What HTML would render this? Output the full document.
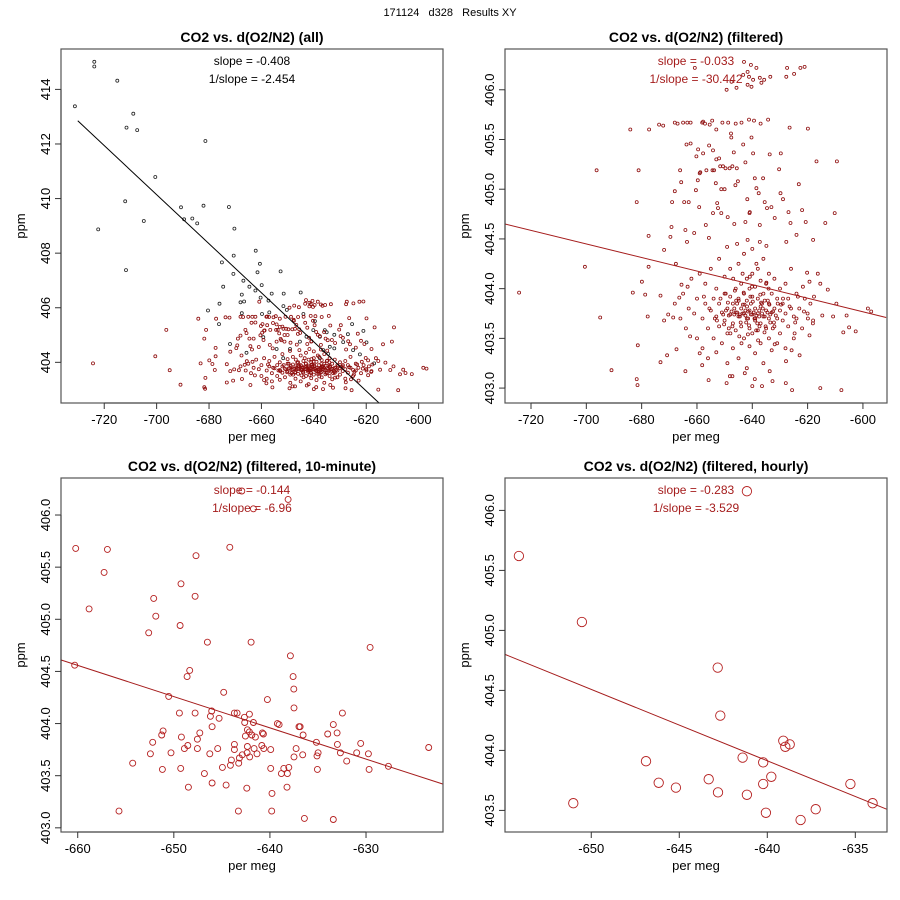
<!DOCTYPE html>
<html><head><meta charset="utf-8"><title>Results XY</title>
<style>
html,body{margin:0;padding:0;background:#fff;}
svg{display:block;font-family:"Liberation Sans",Arial,sans-serif;}
</style></head>
<body>
<svg id="chart" width="900" height="900" viewBox="0 0 900 900" xmlns="http://www.w3.org/2000/svg">
<rect width="900" height="900" fill="#fff"/>
<text x="450" y="16" font-size="11" text-anchor="middle" fill="#000" style="white-space:pre" xml:space="preserve">171124   d328   Results XY</text>
</svg>
<script>
// ---------- DATA ----------
// Panel 1 extra (unfiltered) black points: x (per meg), y (ppm)
const allOnlyX = [-723.8,-723.8,-715,-731.2,-708.9,-711.5,-707.4,-681.4,-700.5,-712,-722.3,-711.7,-704.9,-690.7,-689.5,-686.4,-684.5,-682.1,-672.4,-670.3,-670.6,-662.2,-660.6,-661.5,-652.7,-659.9,-662.3,-664.6,-666.9,-670.7,-675.1,-674.6,-667.5,-666.6,-668,-676,-680.4,-676.2,-667.5,-659.8,-657,-660.3,-656.1,-651.5,-645,-657.3,-651.6,-650.3,-644,-639.6,-640.2,-635.8,-635.1,-632.2,-627,-625.4,-621.1,-619.9,-622.4,-617,-628.8,-625,-633.9,-636.4,-634.5,-637.7,-642.8,-645.3,-649.1,-654.2,-659.3,-665.7,-672,-651.7,-637.7,-632.2];
const allOnlyY = [415.01,414.84,414.32,413.38,413.11,412.6,412.51,412.11,410.79,409.9,408.87,407.38,409.18,409.68,409.24,409.27,409.09,409.74,409.69,408.9,407.91,408.09,407.61,407.3,407.33,406.83,406.63,406.77,406.99,407.24,407.66,406.77,406.48,406.23,406.2,406.15,405.9,405.4,405.8,405.77,405.83,406.37,406.52,406.52,406.56,406.26,406.06,405.92,405.77,405.51,405.18,405.18,405.1,405.01,405.03,405.4,405.15,404.73,404.29,403.96,404.74,404.45,404.57,404.45,404.31,404.15,404.94,404.76,404.49,404.49,404.92,404.35,404.67,404.15,404.94,404.51];

// Filtered points (panels 1 and 2)
const filtX = [
-660.8,-649.3,-645.7,-643,-641.7,-640.5,-638.5,-641.2,-639.7,-641.7,-640.3,-637.3,-636.7,-635.7,-633.5,-627.4,-627.7,-624.9,-622.6,-621.1,-643.3,-647.5,
-684.1,-677.3,-673.7,-672.2,-668,-667,-665,-663.5,-662.3,-658.1,-657.1,-654.5,-653,-650.8,-648.7,-646,-643.9,-641.2,-639.4,-637,-634.3,-626.5,-619.9,-657.8,-655.4,
-696.3,-681.1,-681.8,-677.5,-671.9,-669.2,-669.6,-669,-668,-666.1,-665.7,-664.6,-664.2,-663.6,-663,-663.8,-662.3,-661,-660.4,-660.2,-659.6,-659.7,-659.2,-659,-658.8,-657.8,-656.8,-656.6,-655.6,-655.7,-654.2,-653.8,-654.4,-653.2,-653,-652.7,-652.4,-652,-651.2,-650,-651.6,-650.6,-649.7,-648.2,-647.2,-647.6,-647.7,-646.7,-646.1,-645.2,-645.6,-643.3,-642.5,-641.8,-641,-640.3,-639.7,-639.1,-638.5,-637.7,-636.1,-635.5,-633.7,-633.1,-630.3,-629.8,-629.7,-628.9,-626.9,-623.2,-622,-620.7,-616.8,-613.6,-610.2,-609.4,-618,-624,-627.7,-626.2,-631.9,-634.7,-637.3,-640.9,-642.5,-646.5,-648.9,-651.2,-654.2,-641.7,-637.3,-634.9,-649.1,-645.5,
-724.3,-700.5,-695,-690.9,-683.2,-681.8,-681.5,-681.4,-679.9,-678.7,-677.8,-677.5,-673.2,-673.2,-671.9,-670.8,-670.4,-668.6,-667.6,-667.4,-666.4,-664.2,-665.6,-663.4,-662.5,-659,-658.1,-655.8,-653,-649.3,-648.1,-647.2,-642.7,-640,-639.1,-636.5,-633.7,-632.7,-627.9,-625.6,-615.4,-607.8,-622.9,-625.8,-627.8,-619.3,-618.1,-616.3,-615.4,-612.7,-610.8,-609.6,-607.1,-605.9,-605,-602.6,-598.2,-597,-614.7,-617.7,-619.3,-620.2,-621.7,-623.5,-621.3,-619.9,-624.7,
-668,-666,-665,-664,-663,-662,-661,-660,-660,-659,-658,-658,-657,-657,-656,-656,-655,-655,-654,-654,-653,-653,-652,-652,-652,-651,-651,-650,-650,-650,-649,-649,-649,-648,-648,-648,-647,-647,-647,-646,-646,-646,-645,-645,-645,-645,-644,-644,-644,-643,-643,-643,-643,-642,-642,-642,-642,-641,-641,-641,-641,-640,-640,-640,-640,-640,-639,-639,-639,-639,-638,-638,-638,-638,-637,-637,-637,-637,-636,-636,-636,-636,-635,-635,-635,-634,-634,-634,-634,-633,-633,-633,-632,-632,-632,-631,-631,-631,-630,-630,-630,-629,-629,-628,-628,-628,-627,-627,-626,-626,-625,-625,-624,-624,-623,-622,-621,-620,-619,-618,-644.5,-642.5,-639.5,-637.5,-641.5,-646.5,-651.5,-633.5,-635.5,-648.5,-643.5,-638.5,-640.5,-636.5,-645.5,
-650.5,-649.5,-648.5,-647.5,-646.5,-645.5,-644.5,-643.5,-642.5,-641.5,-640.5,-639.5,-638.5,-637.5,-636.5,-635.5,-634.5,-633.5,-632.5,-631.5,-650.2,-648.8,-647.2,-645.8,-644.2,-642.8,-641.2,-639.8,-638.2,-636.8,-635.2,-633.8,-632.2,-630.8,-649.6,-647.9,-646.3,-644.7,-643.1,-641.6,-640.1,-638.6,-637.1,-635.6,-634.1,-632.6,-646.9,-643.9,-640.9,-637.9,-634.9,-631.9,-628.9,-655.5,-653.5,-626.5,-624.5,-657.5,-652.8,-629.6,-641.9,-638.9,-644.9,-636.2,-640.7,-642.2,-639.2,-643.4,-637.4,-634.4];
const filtY = [
406.22,406.0,406.02,406.28,406.18,406.25,406.22,406.13,406.1,406.05,406.03,406.12,406.07,406.1,406.13,406.22,406.13,406.16,406.22,406.23,406.15,406.08,
405.6,405.6,405.65,405.64,405.67,405.66,405.67,405.67,405.67,405.67,405.66,405.69,405.6,405.67,405.67,405.66,405.67,405.7,405.69,405.66,405.7,405.62,405.61,405.68,405.65,
405.19,405.19,404.87,404.53,404.39,404.62,404.52,404.87,404.98,405.19,405.07,404.87,404.59,404.47,404.87,405.45,405.46,404.56,404.99,405.33,405.4,405.09,404.82,405.16,405.17,405.36,404.64,405.19,405.44,404.51,405.39,405.19,405.19,405.06,405.3,404.86,404.81,405.31,405.0,405.0,405.23,405.23,405.21,405.21,405.23,405.52,405.56,405.37,405.04,405.08,405.21,405.45,405.27,404.9,404.76,405.52,405.36,405.11,405.01,404.96,405.11,404.87,405.35,404.82,405.2,404.96,405.36,404.9,404.77,405.05,404.79,404.67,405.28,404.66,404.76,405.28,404.49,404.54,404.47,404.66,404.71,404.81,404.64,404.77,404.67,404.65,404.72,404.76,404.76,404.49,404.47,404.43,404.42,404.45,
403.96,404.22,403.71,403.18,403.96,403.09,403.03,403.43,404.07,403.94,403.72,404.22,403.93,403.26,403.68,403.33,403.74,403.71,404.25,403.39,403.91,403.17,404.04,404.02,403.52,403.35,403.23,403.08,403.36,403.05,403.12,403.12,403.15,403.02,403.09,403.02,403.17,403.07,403.05,402.98,403.0,402.98,403.33,403.38,403.27,403.53,403.65,404.15,404.05,403.99,403.72,403.85,403.56,403.73,403.61,403.57,403.8,403.77,403.73,403.92,404.07,404.16,404.02,403.92,403.77,403.7,403.55,
403.85,403.7,403.95,403.6,403.8,404.1,403.75,403.5,403.9,404.15,403.7,403.4,403.85,404.05,403.6,403.3,403.78,404.2,403.9,403.5,403.72,404.0,403.62,403.85,404.3,403.76,403.45,403.95,403.68,404.12,403.8,403.55,403.25,403.74,403.92,404.2,403.65,403.85,403.4,403.76,404.0,403.58,403.9,403.72,404.25,403.3,403.8,403.62,404.05,403.75,403.95,403.5,404.35,403.7,403.88,404.1,403.2,403.78,404.0,403.6,403.42,403.74,403.92,404.15,403.55,404.4,403.8,403.68,404.02,403.35,403.75,403.9,404.2,403.58,403.82,403.65,404.08,403.45,403.72,403.95,404.3,403.25,403.78,403.6,404.05,403.85,403.7,403.5,404.15,403.76,403.95,403.38,403.8,403.62,404.1,403.9,403.7,403.45,403.78,404.0,403.55,403.85,403.68,403.75,404.05,403.4,403.9,403.62,403.8,404.2,403.72,403.5,403.95,403.7,403.8,403.6,403.9,403.75,403.85,403.68,403.74,403.78,403.76,403.72,403.7,403.8,403.9,403.66,403.88,403.6,404.15,404.25,403.85,403.85,403.85,
403.74,403.78,403.73,403.77,403.74,403.76,403.72,403.75,403.73,403.77,403.74,403.76,403.73,403.78,403.75,403.72,403.76,403.74,403.77,403.73,403.64,403.86,403.62,403.88,403.66,403.84,403.63,403.87,403.65,403.86,403.62,403.84,403.66,403.85,403.95,403.55,403.98,403.52,403.96,403.54,404.02,403.58,403.94,403.56,404.0,403.6,404.1,403.45,404.12,403.48,404.06,403.44,403.9,403.8,403.7,403.82,403.66,403.92,403.68,403.84,403.82,403.7,403.88,403.8,403.92,403.66,403.7,403.84,403.62,403.88];

// 10-minute averages (panel 3)
const tenX = [-660.21,-656.91,-657.26,-658.82,-660.31,-655.7,-654.28,-652.61,-652.09,-651.88,-652.44,-652.2,-651.26,-651.12,-651.19,-650.53,-650.29,-649.25,-649.35,-649.42,-649.21,-649.28,-648.9,-648.55,-648.48,-648.62,-648.35,-647.79,-647.69,-647.79,-647.55,-647.55,-647.3,-646.82,-646.51,-646.26,-646.19,-646.06,-646.02,-646.02,-645.43,-645.29,-644.95,-644.81,-644.56,-644.18,-644.11,-644.01,-643.7,-643.42,-643.7,-643.7,-643.28,-643.25,-643.18,-642.87,-642.66,-642.62,-642.55,-642.41,-642.38,-642.34,-642.34,-642.14,-642.14,-642.1,-641.96,-641.89,-641.72,-641.65,-641.51,-641.34,-640.85,-640.78,-640.68,-640.64,-640.26,-639.92,-639.92,-639.78,-639.81,-639.22,-639.05,-638.81,-638.56,-638.18,-638.04,-638.22,-637.87,-637.59,-637.52,-637.49,-637.49,-637.28,-636.97,-636.86,-636.55,-636.59,-636.41,-635.16,-635.1,-634.99,-635.06,-633.99,-633.4,-632.98,-633.01,-632.67,-633.4,-632.46,-632.01,-630.97,-630.55,-629.75,-629.68,-629.58,-627.67,-623.48,-642.93,-641.72,-638.11];
const tenY = [405.68,405.67,405.45,405.1,404.56,403.16,403.62,404.87,405.2,405.03,403.71,403.82,403.89,403.93,403.56,404.26,403.72,405.34,404.94,404.1,403.87,403.57,403.76,403.79,403.39,404.45,404.51,405.22,405.61,404.1,403.85,403.76,403.91,403.52,404.78,403.71,404.07,404.12,403.97,403.43,403.76,404.05,403.58,404.3,403.41,405.69,403.6,403.65,404.1,404.1,403.8,403.75,403.16,403.62,403.67,403.7,404.06,404.01,403.88,403.38,403.72,403.94,403.78,403.92,404.09,403.68,404.78,403.89,404.01,403.76,403.87,403.71,403.79,403.91,403.9,403.76,404.23,403.75,403.57,403.33,403.16,404.0,403.99,403.52,403.57,403.52,403.58,403.39,404.65,404.45,404.33,404.15,403.68,403.76,403.97,403.97,403.89,403.7,403.09,403.82,403.69,403.72,403.56,403.9,403.99,403.8,403.91,403.72,403.08,404.1,403.64,403.72,403.81,403.71,403.56,404.73,403.59,403.77,406.23,406.06,406.15];

// hourly averages (panel 4)
const hourX = [-654.11,-650.53,-651.02,-646.89,-646.17,-645.19,-643.33,-642.82,-642.8,-642.67,-641.4,-641.16,-641.16,-640.23,-640.23,-640.08,-639.77,-639.09,-638.98,-638.73,-638.11,-637.25,-635.28,-634.02];
const hourY = [405.62,405.07,403.56,403.91,403.73,403.69,403.76,404.69,403.65,404.29,403.94,406.16,403.63,403.9,403.72,403.48,403.78,404.08,404.03,404.05,403.42,403.51,403.72,403.56];

// regression line endpoints [x0,y0,x1,y1] in data units
const fit1 = [-730.1,412.85,-615.0,402.5];
const fit2 = [-729.4,404.65,-591.6,403.71];
const fit3 = [-661.73,404.61,-622.02,403.42];
const fit4 = [-654.9,404.80,-633.22,403.51];

// tick values
const xt1 = [-720,-700,-680,-660,-640,-620,-600];
const yt1 = [404,406,408,410,412,414];
const xt2 = [-720,-700,-680,-660,-640,-620,-600];
const yt2 = [403.0,403.5,404.0,404.5,405.0,405.5,406.0];
const xt3 = [-660,-650,-640,-630];
const yt3 = [403.0,403.5,404.0,404.5,405.0,405.5,406.0];
const xt4 = [-650,-645,-640,-635];
const yt4 = [403.5,404.0,404.5,405.0,405.5,406.0];

const slopeTexts = [["slope = -0.408","1/slope = -2.454"],["slope = -0.033","1/slope = -30.442"],["slope = -0.144","1/slope = -6.96"],["slope = -0.283","1/slope = -3.529"]];

// ---------- DRAW ----------
const NS = "http://www.w3.org/2000/svg";
const svg = document.getElementById("chart");
const RED = "#8e0c0c";
function mk(tag, attrs, parent, txt){
  const e = document.createElementNS(NS, tag);
  for (const k in attrs) e.setAttribute(k, attrs[k]);
  if (txt !== undefined) e.textContent = txt;
  (parent || svg).appendChild(e);
  return e;
}
function panel(cfg){
  const g = mk("g", {});
  
  
  const L=cfg.box[0], T=cfg.box[1], R=cfg.box[2], B=cfg.box[3];
  const sx = v => L + (v - cfg.xr[0]) / (cfg.xr[1] - cfg.xr[0]) * (R - L);
  const sy = v => B - (v - cfg.yr[0]) / (cfg.yr[1] - cfg.yr[0]) * (B - T);
  const clip = mk("clipPath", {id: cfg.name + "-clip"}, g);
  mk("rect", {x:L, y:T, width:R-L, height:B-T}, clip);
  const plot = mk("g", {"clip-path": "url(#" + cfg.name + "-clip)"}, g);
  
  
  cfg.series.forEach(s => {
    for (let i = 0; i < s.x.length; i++) {
      const c = mk("circle", {cx: sx(s.x[i]).toFixed(1), cy: sy(s.y[i]).toFixed(1), r: s.r, fill: "none", stroke: s.color, "stroke-width": s.sw}, plot);
      
      
    }
  });
  const f = cfg.fit;
  const ln = mk("line", {x1: sx(f[0]), y1: sy(f[1]), x2: sx(f[2]), y2: sy(f[3]), stroke: cfg.lineColor, "stroke-width": 1}, plot);
  
  
  const box = mk("rect", {x:L, y:T, width:R-L, height:B-T, fill:"none", stroke:"#555", "stroke-width":1.2}, g);
  
  
  const xa = mk("g", {}, g);
  
  
  mk("line", {x1: sx(cfg.xt[0]), y1: B, x2: sx(cfg.xt[cfg.xt.length-1]), y2: B, stroke:"#333"}, xa);
  cfg.xt.forEach(v => {
    const x = sx(v);
    mk("line", {x1:x, y1:B, x2:x, y2:B+6, stroke:"#333"}, xa);
    const t = mk("text", {x:x, y:B+21, "font-size":13, "text-anchor":"middle", fill:"#000"}, xa, String(v));
    
    
  });
  const xl = mk("text", {x:(L+R)/2, y:B+38, "font-size":13, "text-anchor":"middle"}, g, "per meg");
  
  
  const ya = mk("g", {}, g);
  
  
  mk("line", {x1: L, y1: sy(cfg.yt[0]), x2: L, y2: sy(cfg.yt[cfg.yt.length-1]), stroke:"#333"}, ya);
  cfg.yt.forEach(v => {
    const y = sy(v);
    mk("line", {x1:L-6, y1:y, x2:L, y2:y, stroke:"#333"}, ya);
    const t = mk("text", {x:L-11, y:y, "font-size":13, "text-anchor":"middle", transform:"rotate(-90 " + (L-11) + " " + y + ")", fill:"#000"}, ya, cfg.ydec ? v.toFixed(1) : String(v));
    
    
  });
  const yl = mk("text", {x:L-36, y:(T+B)/2, "font-size":13, "text-anchor":"middle", transform:"rotate(-90 " + (L-36) + " " + (T+B)/2 + ")"}, g, "ppm");
  
  
  const ti = mk("text", {x:(L+R)/2, y:T-7, "font-size":14, "font-weight":"bold", "text-anchor":"middle"}, g, cfg.title);
  
  
  const s1 = mk("text", {x:cfg.textX, y:T+16, "font-size":12, "text-anchor":"middle", fill:cfg.lineColor}, g, cfg.st[0]);
  
  
  const s2 = mk("text", {x:cfg.textX, y:T+34, "font-size":12, "text-anchor":"middle", fill:cfg.lineColor}, g, cfg.st[1]);
  
  
}

panel({name:"panel-all", box:[61,49,443,403], xr:[-736.5,-590.7], yr:[402.51,415.48], xt:xt1, yt:yt1, ydec:false,
  series:[{x:allOnlyX, y:allOnlyY, color:"#222", r:1.5, sw:0.8, pname:"point-all"},
          {x:filtX, y:filtY, color:RED, r:1.5, sw:0.8, pname:"point-filtered"}],
  fit:fit1, lineColor:"#000", title:"CO2 vs. d(O2/N2) (all)", st:slopeTexts[0], textX:252});
panel({name:"panel-filtered", box:[505,49,887,403], xr:[-729.4,-591.3], yr:[402.85,406.41], xt:xt2, yt:yt2, ydec:true,
  series:[{x:filtX, y:filtY, color:RED, r:1.5, sw:0.8, pname:"point-filtered"}],
  fit:fit2, lineColor:"#a51c1c", title:"CO2 vs. d(O2/N2) (filtered)", st:slopeTexts[1], textX:696});
panel({name:"panel-10min", box:[61,478,443,832], xr:[-661.74,-621.99], yr:[402.96,406.355], xt:xt3, yt:yt3, ydec:true,
  series:[{x:tenX, y:tenY, color:"#b52020", r:3, sw:0.9, pname:"point-10min"}],
  fit:fit3, lineColor:"#a51c1c", title:"CO2 vs. d(O2/N2) (filtered, 10-minute)", st:slopeTexts[2], textX:252});
panel({name:"panel-hourly", box:[505,478,887,832], xr:[-654.9,-633.2], yr:[403.32,406.27], xt:xt4, yt:yt4, ydec:true,
  series:[{x:hourX, y:hourY, color:"#b52020", r:4.7, sw:0.9, pname:"point-hourly"}],
  fit:fit4, lineColor:"#a51c1c", title:"CO2 vs. d(O2/N2) (filtered, hourly)", st:slopeTexts[3], textX:696});
</script>
</body></html>
